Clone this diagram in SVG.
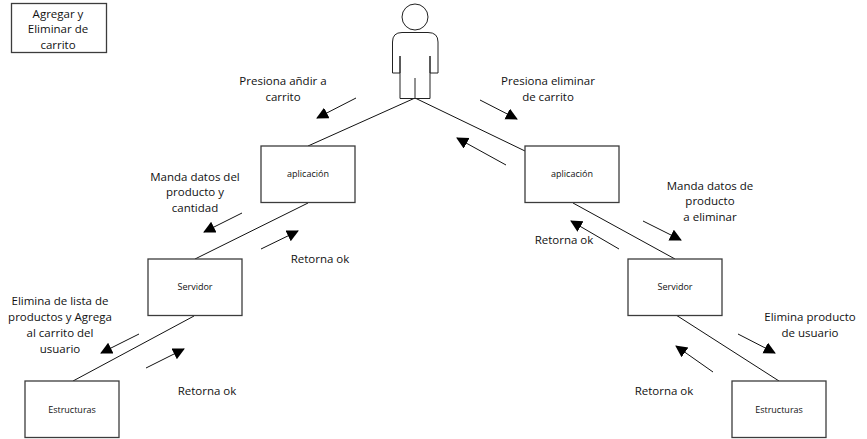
<svg xmlns="http://www.w3.org/2000/svg" width="867" height="439" viewBox="0 0 867 439">
<defs>
<marker id="arrow" markerUnits="userSpaceOnUse" markerWidth="14" markerHeight="14" refX="11" refY="6" orient="auto"><path d="M0,0 L12,6 L0,12 Z" fill="#000"/></marker>
</defs>
<style>
.box{fill:#fff;stroke:#3c3c3c;stroke-width:1.3}
.line{fill:none;stroke:#111;stroke-width:1}
.arr{fill:none;stroke:#111;stroke-width:1;marker-end:url(#arrow)}
text{font-family:"Open Sans","Liberation Sans",sans-serif;fill:#111;text-anchor:middle}
.l{font-size:11.5px}
.s{font-size:9px}
</style>
<rect width="867" height="439" fill="#fff"/>
<g id="connectors">
<path class="line" d="M415,98 L308,146"/>
<path class="line" d="M308,203 L195,259"/>
<path class="line" d="M194,316 L73,381"/>
<path class="line" d="M415,98 L525,151"/>
<path class="line" d="M573,203 L675,259"/>
<path class="line" d="M676,315 L779,381"/>
<path class="arr" d="M356,98 L317,118"/>
<path class="arr" d="M480,100 L517,119"/>
<path class="arr" d="M506,165 L457,138"/>
<path class="arr" d="M242,213 L204,232"/>
<path class="arr" d="M261,249 L298,231"/>
<path class="arr" d="M643,221 L681,240"/>
<path class="arr" d="M619,249 L571,221"/>
<path class="arr" d="M139,334 L101,353"/>
<path class="arr" d="M146,368 L184,349"/>
<path class="arr" d="M738,334 L775,353"/>
<path class="arr" d="M713,372 L676,346"/>
</g>
<g id="legend"><rect class="box" x="11.500" y="3.500" width="95" height="49"/><text class="l" x="58" y="18">Agregar y</text><text class="l" x="58" y="33">Eliminar de</text><text class="l" x="58" y="49">carrito</text></g>
<g id="person">
<circle cx="415" cy="17" r="13" fill="#fff" stroke="#222" stroke-width="1"/>
<path d="M400,56 V73 H392.500 V42 Q392.500,32.500 402,32.500 H428 Q438,32.500 438,42 V73 H430 V56 M400,56 V98.500 H430 V56 M415,78 V98" fill="#fff" stroke="#222" stroke-width="1"/>
</g>
<g id="app-left"><rect class="box" x="261" y="146" width="94" height="56.500"/><text class="s" x="308" y="177">aplicación</text></g>
<g id="app-right"><rect class="box" x="525" y="146" width="94" height="56.500"/><text class="s" x="572" y="177">aplicación</text></g>
<g id="server-left"><rect class="box" x="148" y="259" width="94" height="56.500"/><text class="s" x="195" y="290">Servidor</text></g>
<g id="server-right"><rect class="box" x="628" y="259" width="94" height="56.500"/><text class="s" x="675" y="290">Servidor</text></g>
<g id="struct-left"><rect class="box" x="25" y="381" width="94" height="56.500"/><text class="s" x="72" y="413">Estructuras</text></g>
<g id="struct-right"><rect class="box" x="732" y="381" width="94" height="56.500"/><text class="s" x="779" y="413">Estructuras</text></g>
<g id="labels">
<text class="l" x="283" y="85">Presiona añdir a</text><text class="l" x="283" y="101">carrito</text>
<text class="l" x="548" y="85">Presiona eliminar</text><text class="l" x="548" y="101">de carrito</text>
<text class="l" x="195" y="181">Manda datos del</text><text class="l" x="195" y="196">producto y</text><text class="l" x="195" y="212">cantidad</text>
<text class="l" x="710" y="190">Manda datos de</text><text class="l" x="710" y="205">producto</text><text class="l" x="710" y="221">a eliminar</text>
<text class="l" x="564" y="244">Retorna ok</text>
<text class="l" x="320" y="263">Retorna ok</text>
<text class="l" x="60" y="305">Elimina de lista de</text><text class="l" x="60" y="321">productos y Agrega</text><text class="l" x="60" y="337">al carrito del</text><text class="l" x="60" y="353">usuario</text>
<text class="l" x="810" y="321">Elimina producto</text><text class="l" x="810" y="337">de usuario</text>
<text class="l" x="207" y="395">Retorna ok</text>
<text class="l" x="664" y="395">Retorna ok</text>
</g>
</svg>
